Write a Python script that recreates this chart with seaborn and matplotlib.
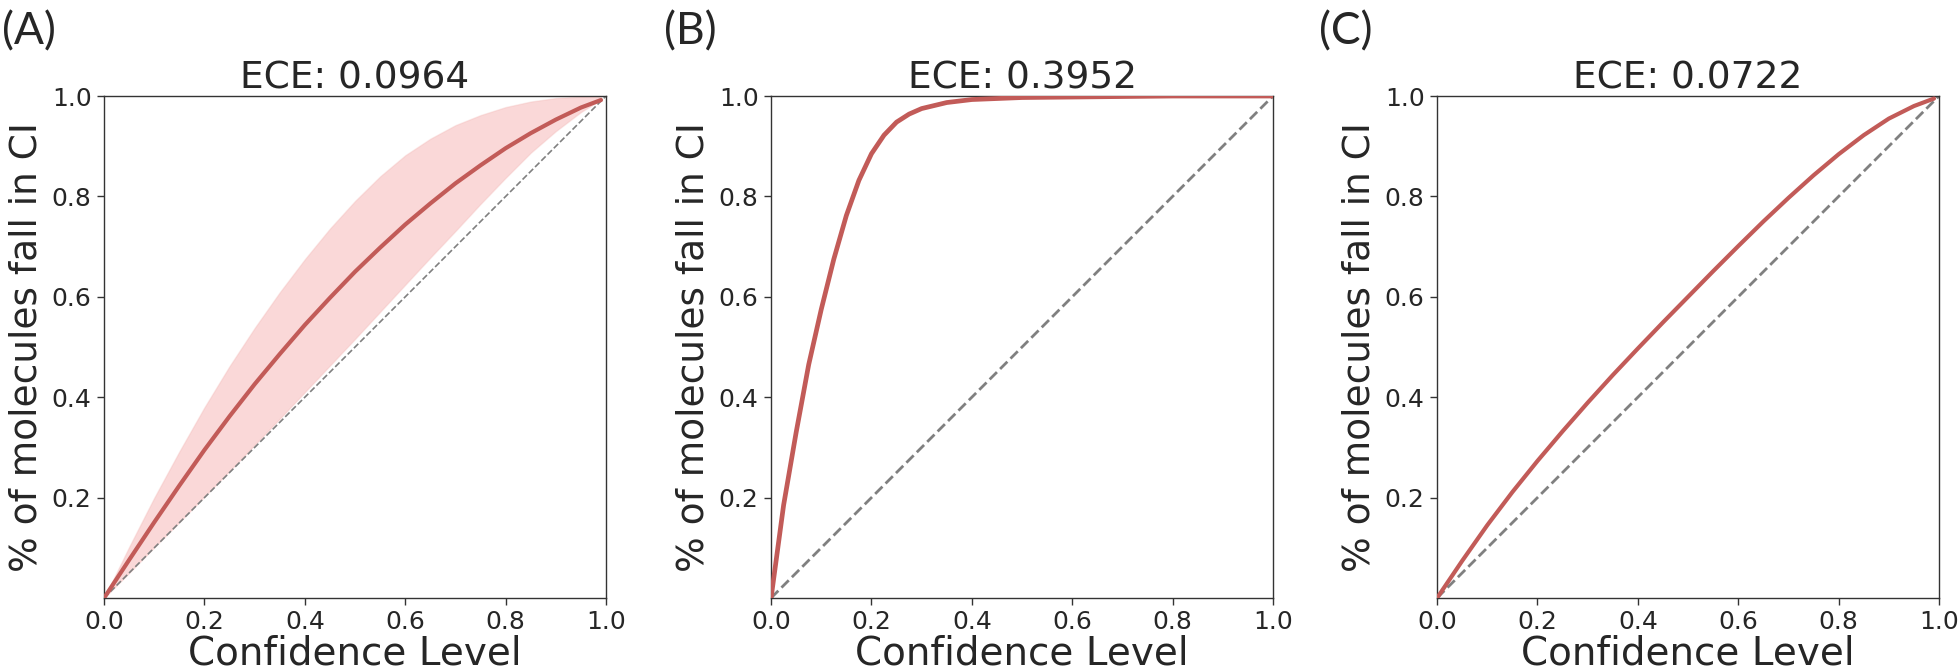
import pandas as pd
import matplotlib.pyplot as plt
import seaborn as sns

conf_a = [0.0, 0.05, 0.10, 0.15, 0.20, 0.25, 0.30, 0.35, 0.40, 0.45, 0.50,
          0.55, 0.60, 0.65, 0.70, 0.75, 0.80, 0.85, 0.90, 0.95, 0.99]
mean_a = [0.0, 0.076, 0.151, 0.224, 0.295, 0.362, 0.426, 0.486, 0.544, 0.598, 0.650,
          0.698, 0.744, 0.786, 0.826, 0.862, 0.896, 0.926, 0.953, 0.977, 0.992]
upper_a = [0.0, 0.102, 0.200, 0.292, 0.380, 0.462, 0.538, 0.609, 0.675, 0.736, 0.791,
           0.840, 0.882, 0.915, 0.942, 0.962, 0.978, 0.989, 0.996, 0.999, 1.0]
lower_a = [0.0, 0.050, 0.101, 0.151, 0.202, 0.253, 0.305, 0.357, 0.410, 0.463, 0.516,
           0.570, 0.624, 0.678, 0.731, 0.785, 0.837, 0.887, 0.930, 0.968, 0.993]

conf_b = [0.0, 0.025, 0.05, 0.075, 0.10, 0.125, 0.15, 0.175, 0.20, 0.225, 0.25,
          0.275, 0.30, 0.35, 0.40, 0.50, 0.60, 0.70, 0.80, 0.90, 1.0]
mean_b = [0.0, 0.185, 0.330, 0.465, 0.575, 0.675, 0.762, 0.832, 0.885, 0.922, 0.948,
          0.964, 0.975, 0.987, 0.993, 0.997, 0.998, 0.999, 1.0, 1.0, 1.0]

conf_c = conf_a
mean_c = [0.0, 0.074, 0.145, 0.211, 0.273, 0.332, 0.389, 0.444, 0.497, 0.549, 0.600,
          0.651, 0.701, 0.750, 0.797, 0.842, 0.884, 0.922, 0.955, 0.980, 0.995]

panel_tags = ['(A)', '(B)', '(C)']
ece_values = [0.0964, 0.3952, 0.0722]
diag = [0, 1]

line_color = '#c25b58'
band_color = '#f08080'

sns.set_style('ticks')

fig = plt.figure(figsize=(19.6, 6.71), dpi=100)
lefts = [0.0531, 0.3934, 0.7332]
axes = [fig.add_axes([l, 0.1088, 0.2561, 0.7481]) for l in lefts]

curves = [(conf_a, mean_a, 3.0), (conf_b, mean_b, 3.4), (conf_c, mean_c, 3.0)]
diag_lw = [1.2, 2.0, 2.0]

for i, ax in enumerate(axes):
    x, y, lw = curves[i]
    if i == 0:
        ax.fill_between(conf_a, lower_a, upper_a, color=band_color, alpha=0.3,
                        edgecolor='#f2b3b0', linewidth=1.0, zorder=1)
    ax.plot(diag, diag, ls='--', color='#808080', lw=diag_lw[i], zorder=2)
    df = pd.DataFrame({'conf': x, 'cov': y})
    sns.lineplot(data=df, x='conf', y='cov', ax=ax, color=line_color, lw=lw, zorder=3)

    ax.set_xlim(0, 1)
    ax.set_ylim(0, 1)
    ax.set_xticks([0.0, 0.2, 0.4, 0.6, 0.8, 1.0])
    ax.set_yticks([0.2, 0.4, 0.6, 0.8, 1.0])
    ax.tick_params(labelsize=18, length=5, width=1, color='#333333', pad=4)
    for s in ax.spines.values():
        s.set_color('#333333')
        s.set_linewidth(1.0)
    ax.set_xlabel('Confidence Level', fontsize=28, labelpad=0)
    ax.set_ylabel('% of molecules fall in CI', fontsize=27, labelpad=5)
    ax.set_title(f'ECE: {ece_values[i]:.4f}', fontsize=27, pad=5)

tag_x = [0.001, 0.339, 0.673]
for tx, tag in zip(tag_x, panel_tags):
    fig.text(tx, 0.934, tag, fontsize=32, family=['Lato', 'DejaVu Sans'],
             va='baseline', ha='left')

plt.savefig('out.png', dpi=100)
